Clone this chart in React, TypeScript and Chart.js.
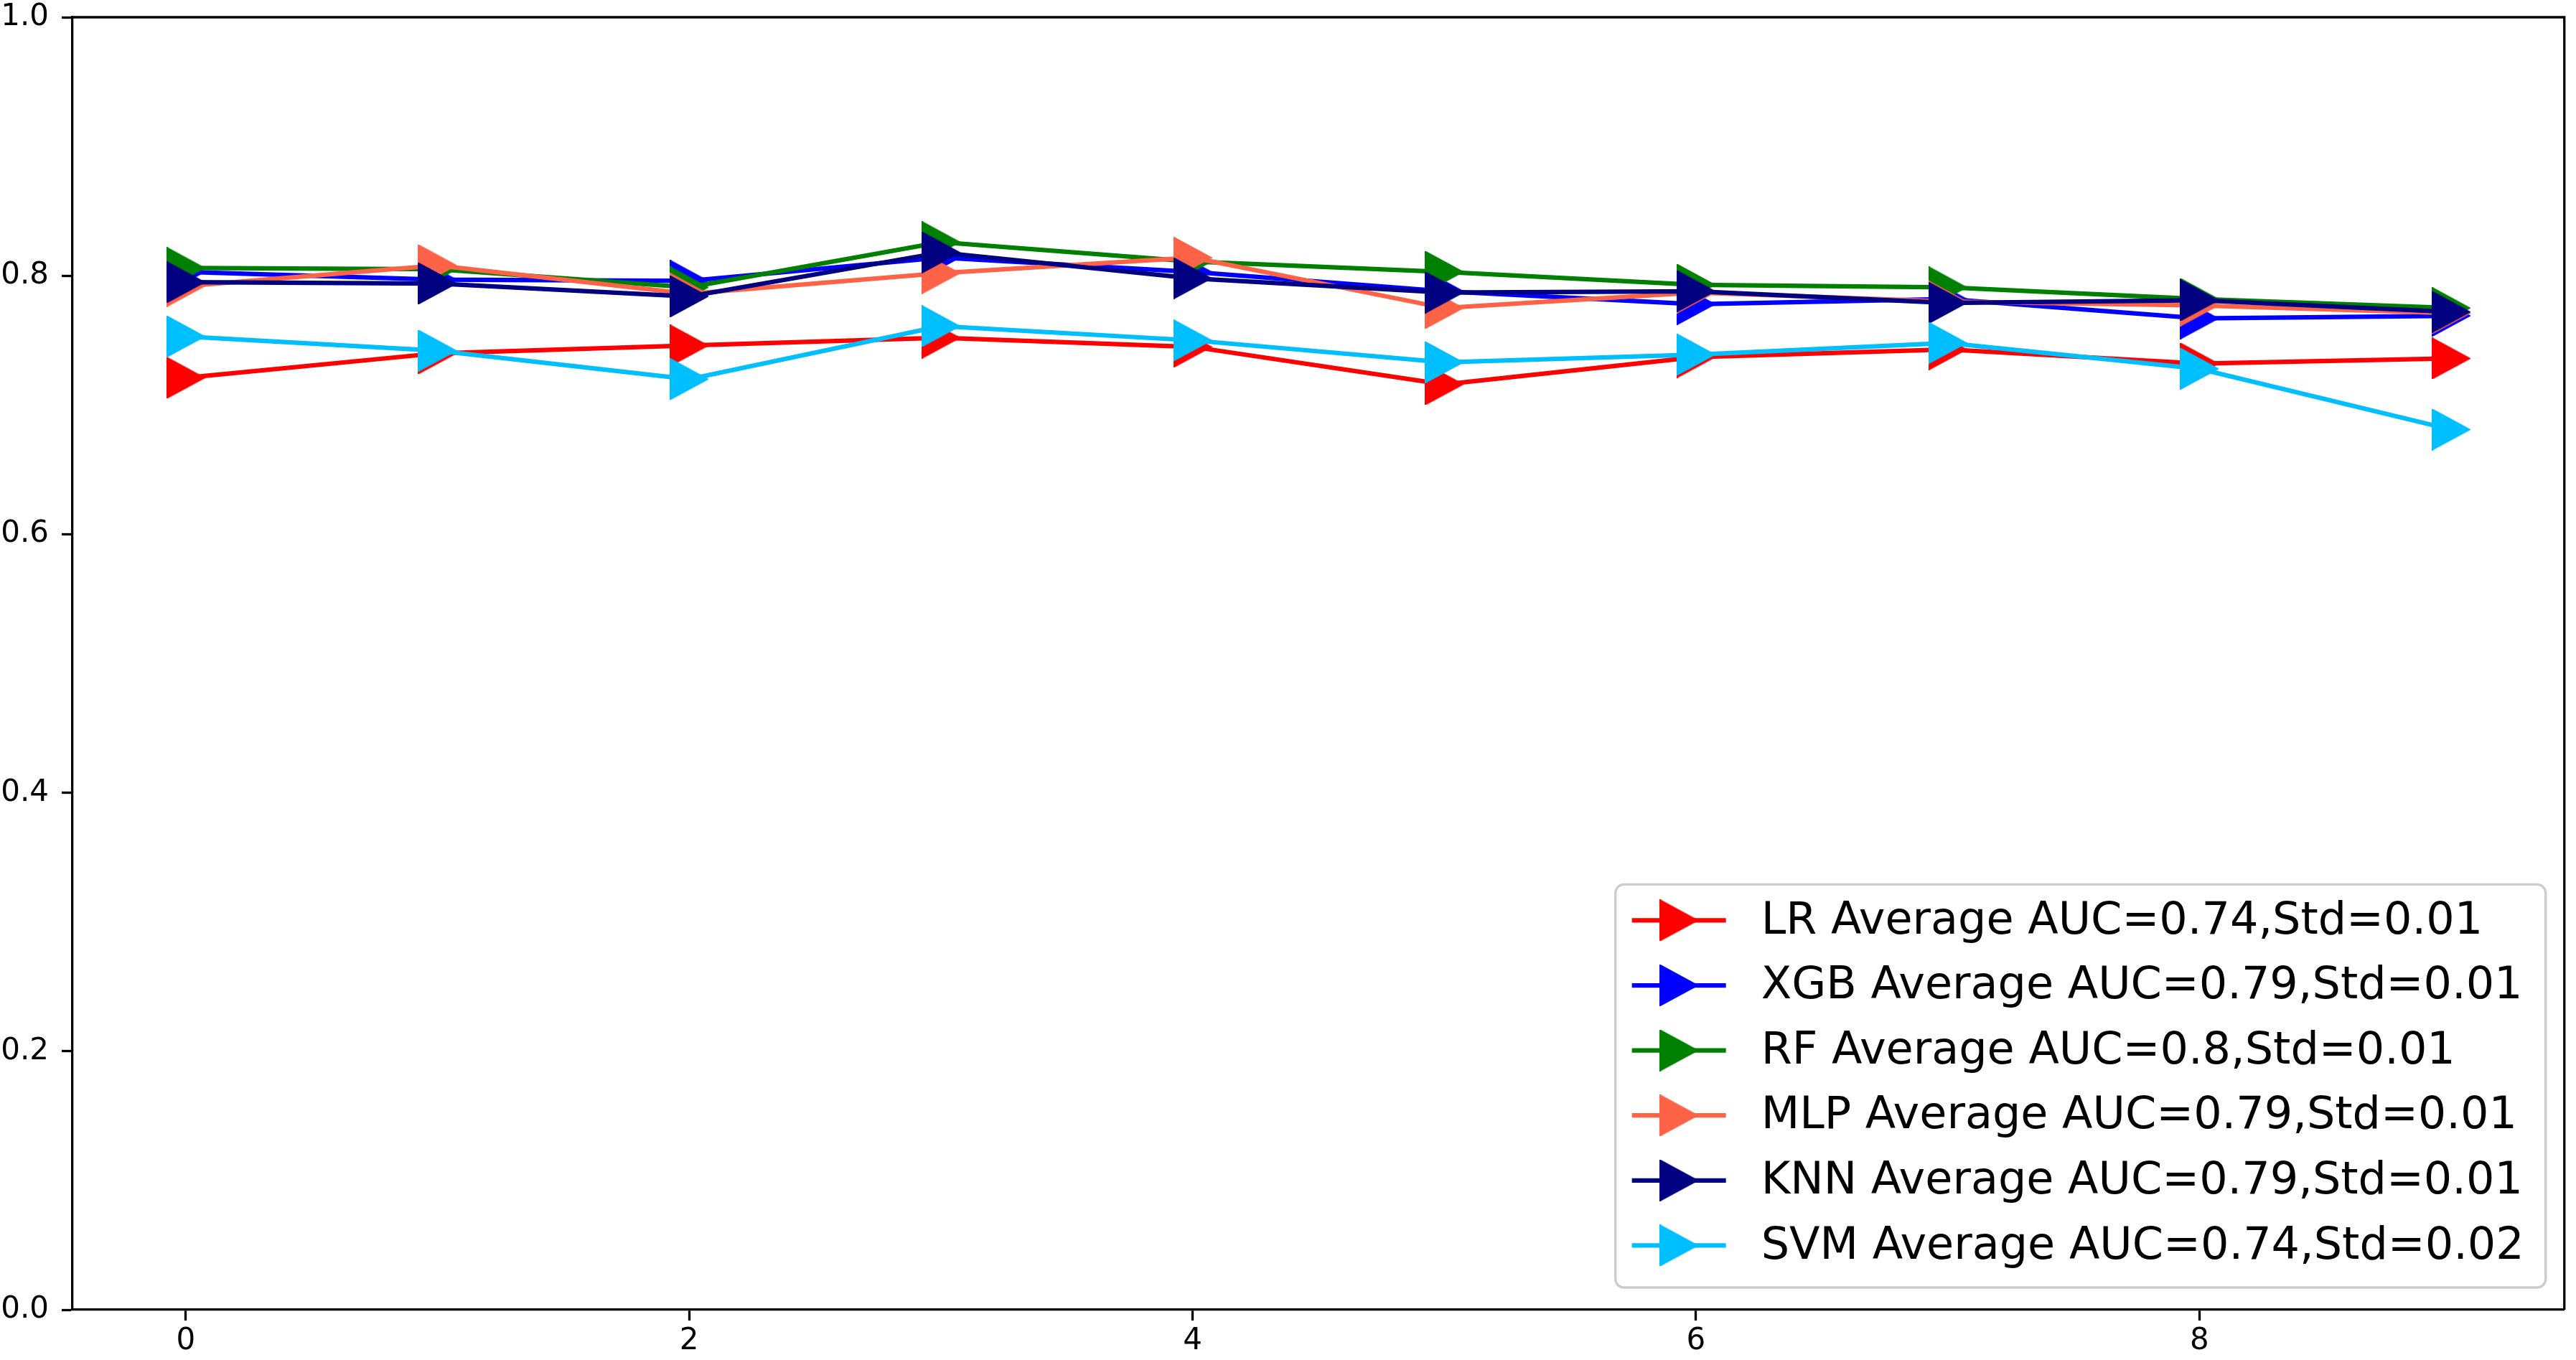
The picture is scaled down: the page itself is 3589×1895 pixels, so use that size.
import React, { useEffect, useRef } from "react";
import Chart from "chart.js/auto";

// fold index on the x axis
const folds = [0, 1, 2, 3, 4, 5, 6, 7, 8, 9];

// AUC per fold
const lrAuc = [0.721, 0.740, 0.746, 0.752, 0.745, 0.716, 0.737, 0.743, 0.732, 0.736];
const xgbAuc = [0.803, 0.797, 0.796, 0.814, 0.803, 0.788, 0.778, 0.782, 0.767, 0.769];
const rfAuc = [0.806, 0.805, 0.791, 0.826, 0.811, 0.803, 0.793, 0.791, 0.782, 0.775];
const mlpAuc = [0.792, 0.808, 0.786, 0.802, 0.814, 0.775, 0.787, 0.780, 0.777, 0.771];
const knnAuc = [0.795, 0.794, 0.784, 0.818, 0.798, 0.787, 0.788, 0.779, 0.781, 0.772];
const svmAuc = [0.753, 0.742, 0.720, 0.761, 0.750, 0.733, 0.739, 0.748, 0.728, 0.681];

const seriesLabels = [
  "LR Average AUC=0.74,Std=0.01",
  "XGB Average AUC=0.79,Std=0.01",
  "RF Average AUC=0.8,Std=0.01",
  "MLP Average AUC=0.79,Std=0.01",
  "KNN Average AUC=0.79,Std=0.01",
  "SVM Average AUC=0.74,Std=0.02",
];
const seriesColors = ["#ff0000", "#0000ff", "#008000", "#ff6347", "#000080", "#00bfff"];
const seriesValues = [lrAuc, xgbAuc, rfAuc, mlpAuc, knnAuc, svmAuc];

const xTicks = [0, 2, 4, 6, 8];
const yTicks = [0, 0.2, 0.4, 0.6, 0.8, 1.0];

const W = 3589;
const H = 1895;
const FONT = "DejaVu Sans";

// matplotlib style ">" marker
function makeMarker(color: string) {
  const c = document.createElement("canvas");
  c.width = 54;
  c.height = 58;
  const g = c.getContext("2d")!;
  g.fillStyle = color;
  g.strokeStyle = color;
  g.lineWidth = 2;
  g.beginPath();
  g.moveTo(1, 1);
  g.lineTo(53, 29);
  g.lineTo(1, 57);
  g.closePath();
  g.fill();
  g.stroke();
  return c;
}

export default function App() {
  const canvasRef = useRef<HTMLCanvasElement>(null);
  const chartRef = useRef<Chart | null>(null);

  useEffect(() => {
    if (!canvasRef.current) return;
    if (chartRef.current) chartRef.current.destroy();

    const markers = seriesColors.map(makeMarker);

    const framePlugin = {
      id: "frame",
      afterDraw(chart: any) {
        const { ctx, chartArea } = chart;
        ctx.save();
        ctx.strokeStyle = "#000";
        ctx.lineWidth = 3.3;
        ctx.beginPath();
        ctx.moveTo(chartArea.left, chartArea.top);
        ctx.lineTo(chartArea.right, chartArea.top);
        ctx.lineTo(chartArea.right, chartArea.bottom);
        ctx.stroke();

        // legend box, lower right
        ctx.font = `62px "${FONT}"`;
        const textW = Math.max(...seriesLabels.map((l) => ctx.measureText(l).width));
        const rowH = 90.6;
        const boxW = 23 + 131 + 49 + textW + 30;
        const boxH = seriesLabels.length * rowH + 18;
        const bx = chartArea.right - 26 - boxW;
        const by = chartArea.bottom - 31 - boxH;
        ctx.beginPath();
        ctx.roundRect(bx, by, boxW, boxH, 12);
        ctx.fillStyle = "rgba(255,255,255,0.8)";
        ctx.fill();
        ctx.strokeStyle = "#cccccc";
        ctx.lineWidth = 3.3;
        ctx.stroke();
        seriesLabels.forEach((label, i) => {
          const cy = by + 50 + i * rowH;
          const hx = bx + 23;
          ctx.strokeStyle = seriesColors[i];
          ctx.lineWidth = 6.25;
          ctx.beginPath();
          ctx.moveTo(hx, cy);
          ctx.lineTo(hx + 131, cy);
          ctx.stroke();
          const m = markers[i];
          ctx.drawImage(m, hx + 65.5 - m.width / 2, cy - m.height / 2);
          ctx.fillStyle = "#000";
          ctx.textAlign = "left";
          ctx.textBaseline = "middle";
          ctx.fillText(label, hx + 131 + 49, cy + 2);
        });
        ctx.restore();
      },
    };

    const tickFont = { family: FONT, size: 42 };

    chartRef.current = new Chart(canvasRef.current, {
      type: "line",
      data: {
        datasets: seriesValues.map((vals, i) => ({
          label: seriesLabels[i],
          data: vals.map((v, j) => ({ x: folds[j], y: v })),
          borderColor: seriesColors[i],
          backgroundColor: seriesColors[i],
          borderWidth: 6.25,
          tension: 0,
          fill: false,
          pointStyle: markers[i],
          pointRadius: 10,
          order: seriesValues.length - i,
        })),
      },
      options: {
        responsive: false,
        animation: false,
        devicePixelRatio: 1,
        layout: { padding: { top: 0, right: 11, left: 0, bottom: 0 } },
        plugins: { legend: { display: false }, tooltip: { enabled: false } },
        scales: {
          x: {
            type: "linear",
            min: -0.45,
            max: 9.45,
            afterBuildTicks: (s: any) => {
              s.ticks = xTicks.map((v) => ({ value: v }));
            },
            afterFit: (s: any) => {
              s.height = 70;
              s.paddingLeft = 0;
              s.paddingRight = 0;
            },
            ticks: {
              font: tickFont,
              color: "#000",
              padding: 4,
              maxRotation: 0,
              autoSkip: false,
              callback: (v: any) => String(v),
            },
            grid: {
              display: true,
              drawOnChartArea: false,
              drawTicks: true,
              tickLength: 15,
              tickWidth: 3.3,
              tickColor: "#000",
            },
            border: { display: true, color: "#000", width: 3.3 },
          },
          y: {
            min: 0,
            max: 1,
            afterBuildTicks: (s: any) => {
              s.ticks = yTicks.map((v) => ({ value: v }));
            },
            afterFit: (s: any) => {
              s.width = 101;
              s.paddingTop = 24;
              s.paddingBottom = 0;
            },
            ticks: {
              font: tickFont,
              color: "#000",
              padding: 18,
              autoSkip: false,
              callback: (v: any) => Number(v).toFixed(1),
            },
            grid: {
              display: true,
              drawOnChartArea: false,
              drawTicks: true,
              tickLength: 15,
              tickWidth: 3.3,
              tickColor: "#000",
            },
            border: { display: true, color: "#000", width: 3.3 },
          },
        },
      },
      plugins: [framePlugin],
    });

    return () => {
      if (chartRef.current) {
        chartRef.current.destroy();
        chartRef.current = null;
      }
    };
  }, []);

  return (
    <div style={{ position: "fixed", left: 0, top: 0, width: W, height: H, background: "#fff" }}>
      <canvas ref={canvasRef} width={W} height={H} style={{ display: "block" }} />
    </div>
  );
}
